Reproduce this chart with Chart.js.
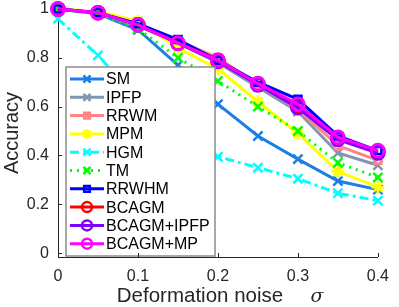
<!DOCTYPE html>
<html>
<head>
<meta charset="utf-8">
<script src="https://cdn.jsdelivr.net/npm/chart.js@4/dist/chart.umd.min.js"></script>
<style>
  html, body { margin: 0; padding: 0; background: #fff; }
  #wrap { width: 399px; height: 307px; }
</style>
</head>
<body>
<div id="wrap"><canvas id="accChart" width="399" height="307"></canvas></div>
<script>
const noise = [0, 0.05, 0.1, 0.15, 0.2, 0.25, 0.3, 0.35, 0.4];
const yTicks = [0, 0.2, 0.4, 0.6, 0.8, 1];
const xTicks = [0, 0.1, 0.2, 0.3, 0.4];

const methods = ["SM", "IPFP", "RRWM", "MPM", "HGM", "TM", "RRWHM", "BCAGM", "BCAGM+IPFP", "BCAGM+MP"];
const sm = [1, 0.98, 0.915, 0.77, 0.61, 0.48, 0.385, 0.295, 0.26];
const ipfp = [1, 0.985, 0.93, 0.86, 0.78, 0.68, 0.58, 0.41, 0.36];
const rrwm = [1, 0.985, 0.94, 0.87, 0.8, 0.69, 0.59, 0.44, 0.38];
const mpm = [1, 0.99, 0.95, 0.84, 0.755, 0.62, 0.49, 0.335, 0.27];
const hgm = [0.96, 0.81, 0.63, 0.49, 0.395, 0.35, 0.305, 0.245, 0.215];
const tm = [1, 0.98, 0.92, 0.8, 0.705, 0.6, 0.5, 0.37, 0.31];
const rrwhm = [1, 0.985, 0.94, 0.875, 0.79, 0.7, 0.63, 0.48, 0.42];
const bcagm = [1, 0.985, 0.935, 0.86, 0.79, 0.69, 0.6, 0.47, 0.415];
const bcagmIpfp = [1, 0.985, 0.935, 0.86, 0.785, 0.69, 0.595, 0.465, 0.41];
const bcagmMp = [1, 0.985, 0.935, 0.86, 0.79, 0.695, 0.61, 0.475, 0.42];

const allValues = [sm, ipfp, rrwm, mpm, hgm, tm, rrwhm, bcagm, bcagmIpfp, bcagmMp];
const colors = ["#1a7fe6", "#8096b0", "#ff8585", "#ffff00", "#00ffff", "#00ff00", "#0000ff", "#ff0000", "#8000ff", "#ff00ff"];
const markers = ["crossRot", "crossRot", "rect", "star", "crossRot", "crossRot", "rect", "circle", "circle", "circle"];
const dashes = [[], [], [], [], [9, 4, 3, 4], [2, 5], [], [], [], []];

const FONT = "'Liberation Sans', Arial, Helvetica, sans-serif";

const datasets = methods.map((name, i) => ({
  label: name,
  data: noise.map((x, j) => ({ x: x, y: allValues[i][j] })),
  borderColor: colors[i],
  backgroundColor: "rgba(0,0,0,0)",
  pointBorderColor: colors[i],
  pointBackgroundColor: "rgba(0,0,0,0)",
  borderWidth: 3,
  borderDash: dashes[i],
  pointStyle: markers[i],
  pointRadius: markers[i] == "rect" ? 5 : 6.5,
  pointBorderWidth: 2.5,
  tension: 0,
  clip: false,
  order: methods.length - i,
}));

// legend box drawn inside the axes, like the original figure
const boxLegend = {
  id: "boxLegend",
  afterDatasetsDraw(chart) {
    const ctx = chart.ctx;
    const x0 = 66, y0 = 67, w = 149, h = 189;
    ctx.save();
    ctx.fillStyle = "#fff";
    ctx.fillRect(x0, y0, w, h);
    ctx.strokeStyle = "#8c8c8c";
    ctx.lineWidth = 1.5;
    ctx.strokeRect(x0, y0, w, h);
    methods.forEach((name, i) => {
      const y = 79 + i * 18.3;
      ctx.strokeStyle = colors[i];
      ctx.lineWidth = 3;
      ctx.setLineDash(dashes[i]);
      ctx.beginPath();
      ctx.moveTo(70, y);
      ctx.lineTo(104, y);
      ctx.stroke();
      ctx.setLineDash([]);
      ctx.fillStyle = "rgba(0,0,0,0)";
      ctx.strokeStyle = colors[i];
      ctx.lineWidth = 2.5;
      Chart.helpers.drawPoint(ctx, {
        pointStyle: markers[i],
        radius: markers[i] == "rect" ? 4 : 5,
        rotation: 0,
        borderWidth: 2.5,
      }, 87, y);
      ctx.fillStyle = "#000";
      ctx.font = "16px " + FONT;
      ctx.textBaseline = "middle";
      ctx.textAlign = "left";
      ctx.fillText(name, 106, y + 1);
    });
    ctx.restore();
  },
};

// inward tick marks (matlab style) + x label with italic sigma
const inTicks = {
  id: "inTicks",
  afterDraw(chart) {
    const ctx = chart.ctx;
    const xs = chart.scales.x, ys = chart.scales.y;
    const a = chart.chartArea;
    ctx.save();
    ctx.strokeStyle = "#262626";
    ctx.lineWidth = 1;
    xTicks.forEach((t) => {
      const px = Math.round(xs.getPixelForValue(t)) + 0.5;
      ctx.beginPath();
      ctx.moveTo(px, a.bottom);
      ctx.lineTo(px, a.bottom - 4);
      ctx.stroke();
    });
    yTicks.forEach((t) => {
      const py = Math.round(ys.getPixelForValue(t)) + 0.5;
      ctx.beginPath();
      ctx.moveTo(a.left, py);
      ctx.lineTo(a.left + 4, py);
      ctx.stroke();
    });
    ctx.fillStyle = "#262626";
    ctx.textBaseline = "alphabetic";
    ctx.textAlign = "center";
    ctx.font = "20.5px " + FONT;
    ctx.fillText("Deformation noise", 200, 302);
    ctx.font = "italic 19px 'DejaVu Serif', 'Liberation Serif', serif";
    ctx.fillText("σ", 317, 302);
    ctx.restore();
  },
};

const accChart = document.getElementById("accChart");

new Chart(accChart, {
  type: "line",
  data: { datasets: datasets },
  plugins: [boxLegend, inTicks],
  options: {
    responsive: false,
    animation: false,
    events: [],
    layout: {
      padding: { top: 8, right: 13, left: 0, bottom: 0 },
    },
    plugins: {
      legend: { display: false },
      tooltip: { enabled: false },
      title: { display: false },
    },
    scales: {
      x: {
        type: "linear",
        min: 0,
        max: 0.4,
        afterBuildTicks: (axis) => {
          axis.ticks = xTicks.map((v) => ({ value: v }));
        },
        afterFit: (axis) => {
          axis.height = 50;
        },
        grid: { display: false, drawTicks: false },
        border: { display: true, color: "#262626", width: 1 },
        ticks: {
          color: "#262626",
          font: { size: 16, family: FONT },
          padding: 10,
          maxRotation: 0,
          callback: (v) => String(v),
        },
        title: { display: false },
      },
      y: {
        type: "linear",
        min: -0.016,
        max: 1,
        afterBuildTicks: (axis) => {
          axis.ticks = yTicks.map((v) => ({ value: v }));
        },
        afterFit: (axis) => {
          axis.width = 58;
          axis.paddingTop = 0;
          axis.paddingBottom = 0;
        },
        grid: { display: false, drawTicks: false },
        border: { display: true, color: "#262626", width: 1 },
        ticks: {
          color: "#262626",
          font: { size: 16, family: FONT, lineHeight: 0.5 },
          padding: 9,
          callback: (v) => String(v),
        },
        title: {
          display: true,
          text: "Accuracy",
          color: "#262626",
          font: { size: 20, family: FONT },
          padding: { top: 0, bottom: 0 },
        },
      },
    },
  },
});
</script>
</body>
</html>
